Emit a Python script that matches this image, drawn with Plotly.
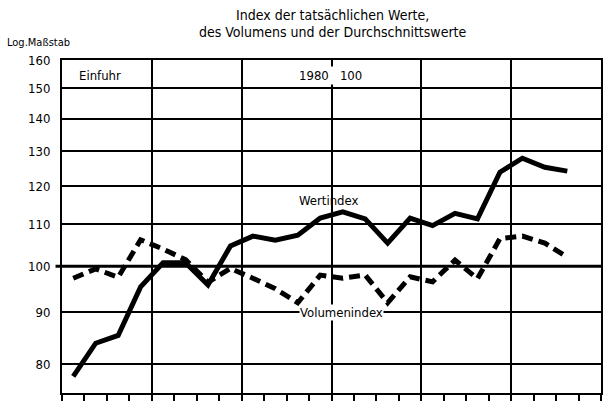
import math
import plotly.graph_objects as go

# quarterly positions (period index 0..22), plotted mid-period
periods = list(range(23))
wertindex = [77.8, 83.9, 85.4, 95.4, 100.8, 100.8, 95.8, 104.7, 107.1, 106.1, 107.3, 111.6,
             113.2, 111.4, 105.4, 111.6, 109.7, 112.8, 111.4, 123.9, 127.9, 125.3, 124.2]
volumenindex = [97.3, 99.4, 97.5, 106.2, 104.0, 101.5, 96.4, 99.5, 97.3, 95.0, 92.0, 98.0,
                97.3, 98.0, 92.0, 97.6, 96.5, 101.4, 97.2, 106.5, 107.1, 105.4, 102.1]
y_ticks = [80, 90, 100, 110, 120, 130, 140, 150, 160]

FONT = "Liberation Sans Narrow, DejaVu Sans Condensed, Arial Narrow, sans-serif"
xs = [p + 0.5 for p in periods]

fig = go.Figure()
fig.add_trace(go.Scatter(x=xs, y=wertindex, mode="lines",
                         line=dict(color="black", width=5, shape="linear"),
                         name="Wertindex", showlegend=False))
fig.add_trace(go.Scatter(x=xs, y=volumenindex, mode="lines",
                         line=dict(color="black", width=5, dash="11px,6px"),
                         name="Volumenindex", showlegend=False))

fig.update_layout(
    width=604, height=401,
    margin=dict(l=62, r=1, t=60, b=8),
    paper_bgcolor="white", plot_bgcolor="white",
    font=dict(family=FONT, color="black", size=12),
    showlegend=False,
)
fig.update_xaxes(range=[0, 24], tickmode="linear", tick0=0, dtick=4,
                 showticklabels=False, ticks="outside", ticklen=7, tickwidth=1.5,
                 tickcolor="black",
                 minor=dict(dtick=1, tick0=0, ticks="outside", ticklen=7,
                            tickwidth=1.5, tickcolor="black", showgrid=False),
                 showgrid=True, gridcolor="black", gridwidth=2,
                 showline=True, linecolor="black", linewidth=2, mirror=True,
                 zeroline=False)
fig.update_yaxes(type="log", range=[math.log10(74.9), math.log10(160)],
                 tickmode="array", tickvals=y_ticks, ticktext=[str(v) for v in y_ticks],
                 ticks="outside", ticklen=7, tickcolor="rgba(0,0,0,0)",
                 tickfont=dict(family=FONT, size=13),
                 showgrid=True, gridcolor="black", gridwidth=1.7,
                 showline=True, linecolor="black", linewidth=2, mirror=True,
                 zeroline=False)

# heavy 100 line, extending slightly left of the axis
fig.add_shape(type="line", xref="paper", yref="y", x0=-0.012, x1=1, y0=100, y1=100,
              line=dict(color="black", width=3), layer="below")

fig.add_annotation(text="Index der tatsächlichen Werte,",
                   xref="paper", yref="paper", x=(334 - 62) / 541, y=1 + (60 - 15) / 333,
                   xanchor="center", yanchor="middle", showarrow=False,
                   font=dict(family=FONT, size=14))
fig.add_annotation(text="des Volumens und der Durchschnittswerte",
                   xref="paper", yref="paper", x=(334 - 62) / 541, y=1 + (60 - 32) / 333,
                   xanchor="center", yanchor="middle", showarrow=False,
                   font=dict(family=FONT, size=14))
fig.add_annotation(text="Log.Maßstab", xref="paper", yref="paper",
                   x=-(62 - 5) / 541, y=1 + (60 - 43) / 333, xanchor="left", yanchor="middle",
                   showarrow=False, font=dict(family=FONT, size=11))
fig.add_annotation(text="Einfuhr", x=0.68, y=math.log10(154.6), xanchor="left",
                   yanchor="middle", showarrow=False, font=dict(family=FONT, size=13))
fig.add_annotation(text="1980   100", x=11.95, y=math.log10(154.6), xanchor="center",
                   yanchor="middle", showarrow=False, bgcolor="white",
                   font=dict(family=FONT, size=13))
fig.add_annotation(text="Wertindex", x=11.87, y=math.log10(116.2), xanchor="center",
                   yanchor="middle", showarrow=False, font=dict(family=FONT, size=13))
fig.add_annotation(text="Volumenindex", x=12.44, y=math.log10(90), xanchor="center",
                   yanchor="middle", showarrow=False, bgcolor="white", borderpad=0,
                   font=dict(family=FONT, size=13))

fig.write_html("out.html", config={"displayModeBar": False},
               post_script="document.body.style.margin='0';")
